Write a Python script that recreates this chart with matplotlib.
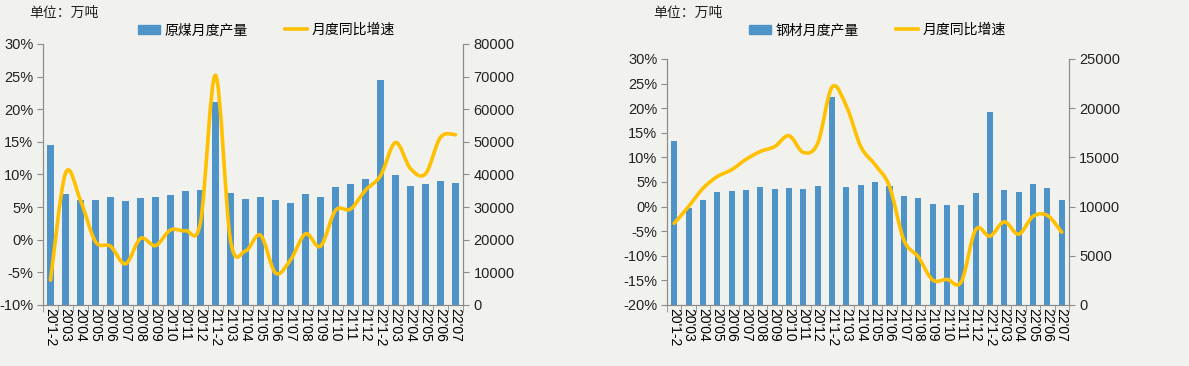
import matplotlib
matplotlib.use("Agg")
import matplotlib.pyplot as plt
from matplotlib.path import Path
from matplotlib.patches import PathPatch
from matplotlib.lines import Line2D
from matplotlib.patches import Patch
import numpy as np

plt.rcParams['font.family'] = ['Liberation Sans', 'Noto Sans CJK SC', 'DejaVu Sans']

months = ["20'1-2", "20'03", "20'04", "20'05", "20'06", "20'07", "20'08", "20'09", "20'10", "20'11", "20'12",
          "21'1-2", "21'03", "21'04", "21'05", "21'06", "21'07", "21'08", "21'09", "21'10", "21'11", "21'12",
          "22'1-2", "22'03", "22'04", "22'05", "22'06", "22'07"]

# 原煤 (万吨) and yoy growth (%)
coal_output = [49000, 33900, 32100, 32100, 33100, 31800, 32800, 33100, 33700, 34900, 35200,
               62300, 34300, 32400, 33100, 32100, 31200, 34000, 33100, 36100, 37000, 38600,
               69000, 39800, 36400, 37000, 38000, 37300]
coal_yoy = [-6.2, 10.2, 6.0, -0.3, -1.0, -3.7, 0.2, -0.9, 1.5, 1.4, 2.7,
            25.2, -0.1, -1.7, 0.7, -5.1, -3.1, 0.9, -1.0, 4.5, 4.7, 7.6,
            9.8, 14.9, 10.9, 10.1, 15.7, 16.1]

# 钢材 (万吨) and yoy growth (%)
steel_output = [16700, 9900, 10700, 11450, 11550, 11660, 11960, 11760, 11860, 11760, 12060,
                21090, 11960, 12160, 12470, 12060, 11050, 10840, 10240, 10140, 10140, 11350,
                19660, 11660, 11450, 12260, 11860, 10640]
steel_yoy = [-3.4, 0.0, 3.7, 6.1, 7.5, 9.6, 11.2, 12.2, 14.4, 11.0, 12.9,
             24.3, 20.4, 12.2, 8.5, 4.1, -6.8, -10.2, -14.9, -14.8, -15.3, -4.7,
             -6.0, -3.1, -5.6, -2.0, -1.8, -5.2]

BG = '#f1f2ee'
BAR = '#4f94c9'
LINE = '#ffc000'
AXC = '#8c8c8c'


def smooth_path(x, y):
    # bezier segments through the data points (Excel style smoothed line)
    pts = np.column_stack([x, y]).astype(float)
    n = len(pts)
    verts = [pts[0]]
    codes = [Path.MOVETO]
    for i in range(n - 1):
        p0 = pts[i - 1] if i > 0 else pts[i]
        p1 = pts[i]
        p2 = pts[i + 1]
        p3 = pts[i + 2] if i + 2 < n else pts[i + 1]
        c1 = p1 + (p2 - p0) / 6.0
        c2 = p2 - (p3 - p1) / 6.0
        verts += [c1, c2, p2]
        codes += [Path.CURVE4] * 3
    return Path(verts, codes)


def draw_panel(fig, rect, bars, yoy, bar_name, pct_lim, val_lim, val_step, legend_x, unit_x):
    ax = fig.add_axes(rect)
    ax.set_facecolor('none')
    x = np.arange(len(months))
    ax2 = ax.twinx()
    ax.set_zorder(2)
    ax2.set_zorder(1)
    ax2.bar(x, bars, width=0.42, color=BAR, zorder=2)
    ax2.set_ylim(*val_lim)
    ax2.set_yticks(np.arange(val_lim[0], val_lim[1] + 1, val_step))
    ax.add_patch(PathPatch(smooth_path(x, yoy), facecolor='none', edgecolor=LINE, lw=2.6,
                           capstyle='round', joinstyle='round', zorder=3))
    ax.set_ylim(*pct_lim)
    ax.set_yticks(np.arange(pct_lim[0], pct_lim[1] + 1, 5))
    ax.set_yticklabels(['%d%%' % v for v in np.arange(pct_lim[0], pct_lim[1] + 1, 5)])
    ax.set_xlim(-0.5, len(months) - 0.5)
    ax.set_xticks(x)
    ax.set_xticklabels(months, rotation=-90, fontsize=10)
    ax.tick_params(axis='x', length=0, pad=2)
    ax.set_xticks(np.arange(-0.5, len(months), 1), minor=True)
    ax.tick_params(axis='x', which='minor', length=5, color=AXC, direction='out')
    for a in (ax, ax2):
        a.spines['top'].set_visible(False)
        for s in ('left', 'right', 'bottom'):
            a.spines[s].set_color(AXC)
        a.tick_params(axis='y', labelsize=10.5, color=AXC, length=4, labelcolor='#222222')
    ax.tick_params(axis='y', pad=3)
    handles = [Patch(color=BAR), Line2D([], [], color=LINE, lw=2.6)]
    fig.legend(handles, [bar_name, '月度同比增速'], loc='center', bbox_to_anchor=(legend_x, 0.918),
               ncol=2, frameon=False, fontsize=10, handlelength=1.6, handleheight=0.6,
               columnspacing=2.7, handletextpad=0.3)
    fig.text(unit_x, 0.965, '单位：万吨', fontsize=10, va='center', ha='left', color='#222222')
    return ax


fig = plt.figure(figsize=(11.89, 3.66), dpi=100)
fig.patch.set_facecolor(BG)

draw_panel(fig, [0.0362, 0.1667, 0.3532, 0.7131], coal_output, coal_yoy, '原煤月度产量',
           (-10, 30), (0, 80000), 10000, 0.224, 0.025)
draw_panel(fig, [0.561, 0.1667, 0.338, 0.6721], steel_output, steel_yoy, '钢材月度产量',
           (-20, 30), (0, 25000), 5000, 0.738, 0.549)

fig.savefig('out.png', dpi=100, facecolor=BG)
